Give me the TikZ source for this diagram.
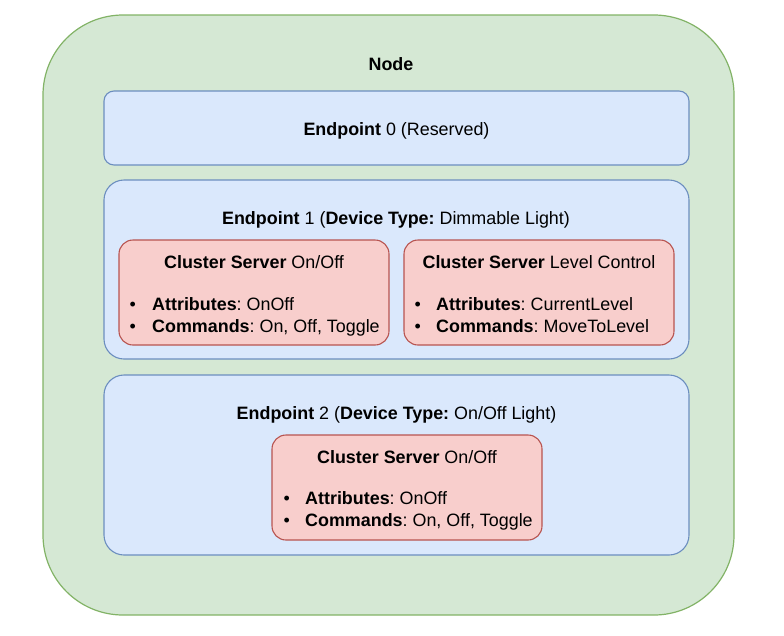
\documentclass[tikz,border=0pt]{standalone}
\usepackage{fontspec}
\setmainfont{Liberation Sans}
\frenchspacing
\definecolor{gfill}{HTML}{D5E8D4}
\definecolor{gline}{HTML}{82B366}
\definecolor{bfill}{HTML}{DAE8FC}
\definecolor{bline}{HTML}{6C8EBF}
\definecolor{rfill}{HTML}{F8CECC}
\definecolor{rline}{HTML}{B85450}
\newcommand{\blt}[1]{\makebox[#1][l]{\hspace{0.5pt}•}}
\begin{document}
\begin{tikzpicture}[x=1pt,y=-1pt,
  font=\fontsize{17.9}{22}\selectfont\frenchspacing,
  nodebox/.style={draw=gline,fill=gfill,line width=1.2pt,rounded corners=80pt,inner sep=0pt},
  epbox/.style={draw=bline,fill=bfill,line width=1.1pt,inner sep=0pt},
  clbox/.style={draw=rline,fill=rfill,line width=1.1pt,rounded corners=14pt,inner sep=0pt,minimum width=270pt,minimum height=105pt},
  lbl/.style={inner sep=0pt,anchor=base},
  lst/.style={inner sep=0pt,anchor=base west}]
\useasboundingbox (0,0) rectangle (784,635);
\node[nodebox,minimum width=691pt,minimum height=600pt] (node) at (388.5,315) {};
\node[lbl] (nodelbl) at (391,70) {\textbf{Node}};
% Endpoint 0
\node[epbox,rounded corners=10pt,minimum width=585pt,minimum height=74pt] (ep0) at (396.5,128) {};
\node[lbl] (ep0lbl) at (396.5,135) {\textbf{Endpoint} 0 (Reserved)};
% Endpoint 1
\node[epbox,rounded corners=20pt,minimum width=585pt,minimum height=179pt] (ep1) at (396.5,269.5) {};
\node[lbl] (ep1lbl) at (396,224) {\textbf{Endpoint} 1 (\textbf{Device Type:} Dimmable Light)};
\node[clbox] (c11) at (254,292.5) {};
\node[lbl] (c11lbl) at (254,268) {\textbf{Cluster Server} On/Off};
\node[lst] (c11a) at (129,310) {\blt{23pt}\textbf{Attributes}: OnOff};
\node[lst] (c11b) at (129,332) {\blt{23pt}\textbf{Commands}: On, Off, Toggle};
\node[clbox] (c12) at (539,292.5) {};
\node[lbl] (c12lbl) at (539,268) {\textbf{Cluster Server} Level Control};
\node[lst] (c12a) at (414,310) {\blt{22pt}\textbf{Attributes}: CurrentLevel};
\node[lst] (c12b) at (414,332) {\blt{22pt}\textbf{Commands}: MoveToLevel};
% Endpoint 2
\node[epbox,rounded corners=20pt,minimum width=585pt,minimum height=180pt] (ep2) at (396.5,465) {};
\node[lbl] (ep2lbl) at (396.5,419) {\textbf{Endpoint} 2 (\textbf{Device Type:} On/Off Light)};
\node[clbox] (c21) at (407,487.5) {};
\node[lbl] (c21lbl) at (407,463) {\textbf{Cluster Server} On/Off};
\node[lst] (c21a) at (283,504) {\blt{22pt}\textbf{Attributes}: OnOff};
\node[lst] (c21b) at (283,526) {\blt{22pt}\textbf{Commands}: On, Off, Toggle};
\end{tikzpicture}
\end{document}
